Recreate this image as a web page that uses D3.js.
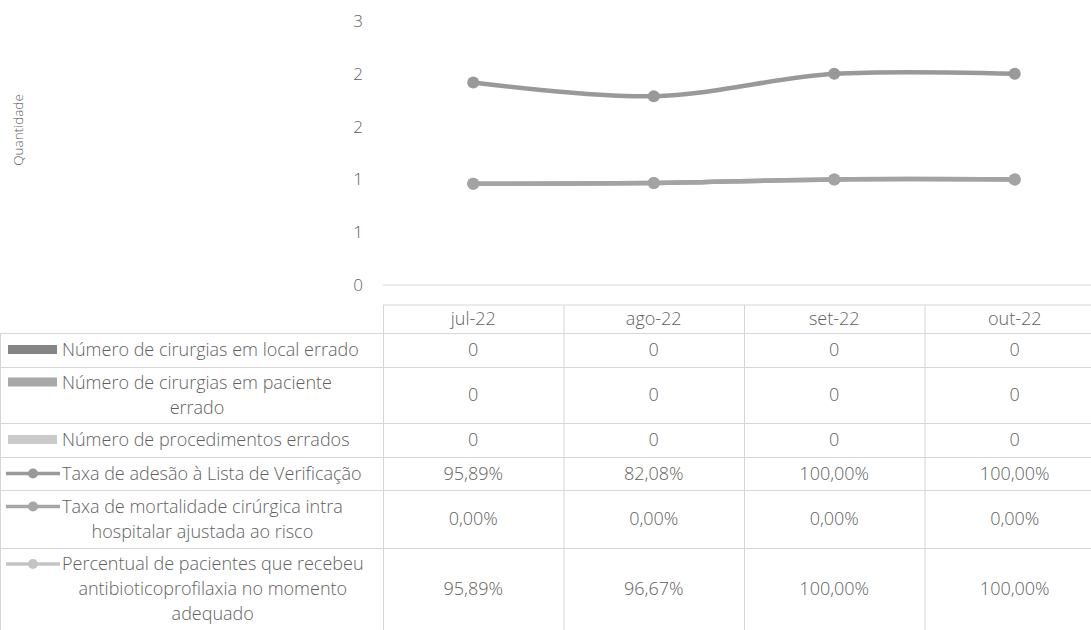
<!DOCTYPE html>
<html>
<head>
<meta charset="utf-8">
<script src="https://cdn.jsdelivr.net/npm/d3@7"></script>
<style>
  body { margin: 0; background: #fff; }
  svg { display: block; font-family: "Open Sans", sans-serif; font-weight: 300; }
  .lbl { fill: #5f5f5f; font-size: 18px; }
  .tick text { fill: #5f5f5f; font-size: 17px; font-family: "Open Sans", sans-serif; font-weight: 300; }
</style>
</head>
<body>
<div id="chart"></div>
<script>
(() => {
  const months = ['jul-22', 'ago-22', 'set-22', 'out-22'];
  const localErrado = [0, 0, 0, 0];
  const pacienteErrado = [0, 0, 0, 0];
  const procedimentosErrados = [0, 0, 0, 0];
  const adesao = [0.9589, 0.8208, 1, 1];
  const mortalidade = [0, 0, 0, 0];
  const antibiotico = [0.9589, 0.9667, 1, 1];
  const yTicks = [0, 0.5, 1, 1.5, 2, 2.5];

  // table rows, in the order the reference prints them
  const rows = [
    { key: 'local', type: 'bar', color: '#858585', values: localErrado, fmt: 'int',
      label: ['Número de cirurgias em local errado'] },
    { key: 'paciente', type: 'bar', color: '#a8a8a8', values: pacienteErrado, fmt: 'int',
      label: ['Número de cirurgias em paciente', 'errado'] },
    { key: 'proced', type: 'bar', color: '#cacaca', values: procedimentosErrados, fmt: 'int',
      label: ['Número de procedimentos errados'] },
    { key: 'adesao', type: 'line', color: '#999999', values: adesao, fmt: 'pct',
      label: ['Taxa de adesão à Lista de Verificação'] },
    { key: 'mort', type: 'line', color: '#a6a6a6', values: mortalidade, fmt: 'pct',
      label: ['Taxa de mortalidade cirúrgica intra', 'hospitalar ajustada ao risco'] },
    { key: 'antib', type: 'line', color: '#c4c4c4', values: antibiotico, fmt: 'pct',
      label: ['Percentual de pacientes que recebeu', 'antibioticoprofilaxia no momento', 'adequado'] }
  ];

  const width = 1091;
  const height = 630;
  const plotTop = 21;
  const plotBottom = 285;
  const tableLeft = 383;
  const tableRight = 1105;
  const tableTop = 305;
  const headerH = 28;
  const rowHeights = [34, 56, 34, 33, 58, 82];
  const lineH = 25;

  const svg = d3.select('#chart').append('svg')
    .attr('width', width)
    .attr('height', height);

  const x = d3.scaleBand().domain(months).range([tableLeft, tableRight]);
  const y = d3.scaleLinear().domain([0, 2.5]).range([plotBottom, plotTop]);

  // y axis, Excel rounds the 0.5 steps to whole numbers
  svg.append('g')
    .attr('transform', `translate(${tableLeft},0)`)
    .call(d3.axisLeft(y).tickValues(yTicks).tickSize(0).tickPadding(20)
      .tickFormat(d => Math.round(d)))
    .call(g => g.select('.domain').remove());

  svg.append('text')
    .attr('class', 'lbl')
    .attr('transform', 'translate(23,130) rotate(-90)')
    .attr('text-anchor', 'middle')
    .style('font-size', '13.5px')
    .text('Quantidade');

  svg.append('line')
    .attr('x1', tableLeft).attr('x2', width)
    .attr('y1', plotBottom).attr('y2', plotBottom)
    .attr('stroke', '#d9d9d9').attr('stroke-width', 1);

  // stacked lines
  const table = months.map((m, i) => ({
    month: m, antib: antibiotico[i], mort: mortalidade[i], adesao: adesao[i]
  }));
  const stacked = d3.stack().keys(['antib', 'mort', 'adesao'])(table);
  const lineColors = { antib: '#a3a3a3', mort: '#a3a3a3', adesao: '#999999' };

  const line = d3.line()
    .x(d => x(d.data.month) + x.bandwidth() / 2)
    .y(d => y(d[1]))
    .curve(d3.curveCatmullRom.alpha(0.5));

  const series = svg.append('g').selectAll('g')
    .data(stacked)
    .join('g');

  series.append('path')
    .attr('d', line)
    .attr('fill', 'none')
    .attr('stroke', d => lineColors[d.key])
    .attr('stroke-width', 4.5)
    .attr('stroke-linecap', 'round');

  series.selectAll('circle')
    .data(d => d.map(p => ({ p, key: d.key })))
    .join('circle')
    .attr('cx', d => x(d.p.data.month) + x.bandwidth() / 2)
    .attr('cy', d => y(d.p[1]))
    .attr('r', 6)
    .attr('fill', d => lineColors[d.key]);

  // data table
  const rowTops = [tableTop + headerH];
  rowHeights.forEach((h, i) => rowTops.push(rowTops[i] + h));
  const grid = svg.append('g')
    .attr('stroke', '#d6d6d6')
    .attr('stroke-width', 1);

  grid.append('line')
    .attr('x1', tableLeft).attr('x2', width)
    .attr('y1', tableTop).attr('y2', tableTop);
  rowTops.forEach(t => {
    grid.append('line')
      .attr('x1', 0).attr('x2', width)
      .attr('y1', t + 0.5).attr('y2', t + 0.5);
  });
  months.forEach(m => {
    grid.append('line')
      .attr('x1', x(m) + 0.5).attr('x2', x(m) + 0.5)
      .attr('y1', tableTop).attr('y2', height);
  });
  grid.append('line')
    .attr('x1', 0.5).attr('x2', 0.5)
    .attr('y1', rowTops[0]).attr('y2', height);

  svg.append('g').selectAll('text')
    .data(months)
    .join('text')
    .attr('class', 'lbl')
    .attr('x', d => x(d) + x.bandwidth() / 2)
    .attr('y', tableTop + headerH / 2)
    .attr('dy', '0.35em')
    .attr('text-anchor', 'middle')
    .text(d => d);

  const fmtPct = v => (v * 100).toFixed(2).replace('.', ',') + '%';

  rows.forEach((r, i) => {
    const cy = rowTops[i] + rowHeights[i] / 2;
    const firstY = cy - (r.label.length - 1) * lineH / 2;
    const g = svg.append('g');

    if (r.type === 'bar') {
      g.append('rect')
        .attr('x', 8).attr('y', firstY - 5)
        .attr('width', 49).attr('height', 9)
        .attr('fill', r.color);
    } else {
      g.append('line')
        .attr('x1', 6).attr('x2', 60)
        .attr('y1', firstY).attr('y2', firstY)
        .attr('stroke', r.color).attr('stroke-width', 3.5);
      g.append('circle')
        .attr('cx', 33).attr('cy', firstY).attr('r', 5)
        .attr('fill', r.color);
    }

    const first = g.append('text')
      .attr('class', 'lbl')
      .attr('x', 62)
      .attr('y', firstY)
      .attr('dy', '0.35em')
      .text(r.label[0]);
    const mid = 62 + first.node().getComputedTextLength() / 2;
    r.label.slice(1).forEach((t, j) => {
      g.append('text')
        .attr('class', 'lbl')
        .attr('x', mid)
        .attr('y', firstY + (j + 1) * lineH)
        .attr('dy', '0.35em')
        .attr('text-anchor', 'middle')
        .text(t);
    });

    g.selectAll('.val')
      .data(r.values.map((v, k) => ({ v, m: months[k] })))
      .join('text')
      .attr('class', 'lbl val')
      .attr('x', d => x(d.m) + x.bandwidth() / 2)
      .attr('y', cy)
      .attr('dy', '0.35em')
      .attr('text-anchor', 'middle')
      .text(d => r.fmt === 'pct' ? fmtPct(d.v) : d.v);
  });
})();
</script>
</body>
</html>
